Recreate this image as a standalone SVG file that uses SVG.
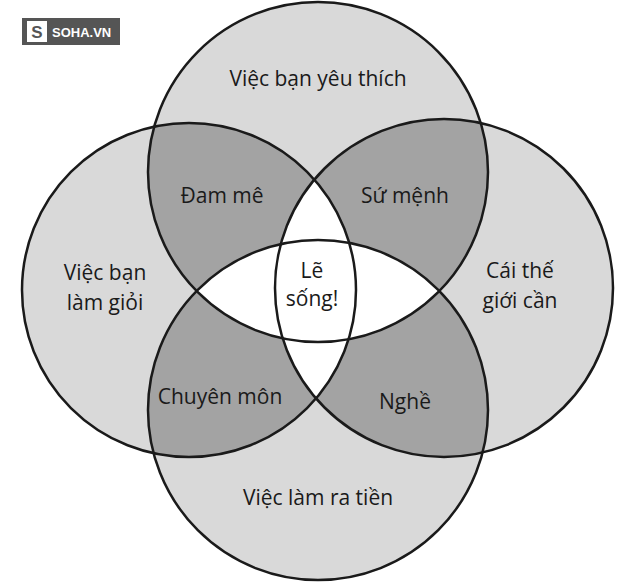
<svg xmlns="http://www.w3.org/2000/svg" width="636" height="582" viewBox="0 0 636 582">
<style>
.t{font-family:"Open Sans","Liberation Sans",sans-serif;font-size:21px;fill:#1a1a1a;text-anchor:middle}
.o{fill:none;stroke:#1a1a1a;stroke-width:2.5}
</style>
<defs>
<clipPath id="cT"><circle cx="318" cy="172" r="170"/></clipPath>
<clipPath id="cL"><circle cx="189" cy="290" r="167"/></clipPath>
<clipPath id="cR"><circle cx="444" cy="288" r="169"/></clipPath>
<clipPath id="cB"><circle cx="318" cy="410" r="170"/></clipPath>
</defs>
<rect width="636" height="582" fill="#fff"/>
<g fill="#d9d9d9">
<circle cx="318" cy="172" r="170"/><circle cx="189" cy="290" r="167"/><circle cx="444" cy="288" r="169"/><circle cx="318" cy="410" r="170"/>
</g>
<g fill="#a3a3a3">
<g clip-path="url(#cT)"><circle cx="189" cy="290" r="167"/><circle cx="444" cy="288" r="169"/><circle cx="318" cy="410" r="170"/></g>
<g clip-path="url(#cB)"><circle cx="189" cy="290" r="167"/><circle cx="444" cy="288" r="169"/></g>
<g clip-path="url(#cL)"><circle cx="444" cy="288" r="169"/></g>
</g>
<g fill="#fff">
<g clip-path="url(#cT)"><g clip-path="url(#cL)"><circle cx="318" cy="410" r="170"/><circle cx="444" cy="288" r="169"/></g></g>
<g clip-path="url(#cT)"><g clip-path="url(#cR)"><circle cx="318" cy="410" r="170"/></g></g>
<g clip-path="url(#cB)"><g clip-path="url(#cL)"><circle cx="444" cy="288" r="169"/></g></g>
</g>
<g class="o">
<circle cx="318" cy="172" r="170"/><circle cx="189" cy="290" r="167"/><circle cx="444" cy="288" r="169"/><circle cx="318" cy="410" r="170"/>
</g>
<g id="logo">
<rect x="22" y="18" width="98" height="27" fill="#555"/>
<rect x="27" y="21" width="20" height="21" fill="#fff"/>
<text x="37" y="38" font-family="Liberation Sans,sans-serif" font-weight="bold" font-size="17" fill="#555" text-anchor="middle">S</text>
<text x="52" y="37" font-family="Liberation Sans,sans-serif" font-weight="bold" font-size="13" fill="#fff">SOHA.VN</text>
</g>
<text class="t" x="318" y="86">Việc bạn yêu thích</text>
<text class="t" x="222" y="203">Đam mê</text>
<text class="t" x="405" y="203">Sứ mệnh</text>
<text class="t" x="105" y="280">Việc bạn</text>
<text class="t" x="105" y="310">làm giỏi</text>
<text class="t" x="312" y="278">Lẽ</text>
<text class="t" x="312" y="306">sống!</text>
<text class="t" x="520" y="278">Cái thế</text>
<text class="t" x="520" y="308">giới cần</text>
<text class="t" x="220" y="404">Chuyên môn</text>
<text class="t" x="405" y="409">Nghề</text>
<text class="t" x="318" y="505">Việc làm ra tiền</text>
</svg>
